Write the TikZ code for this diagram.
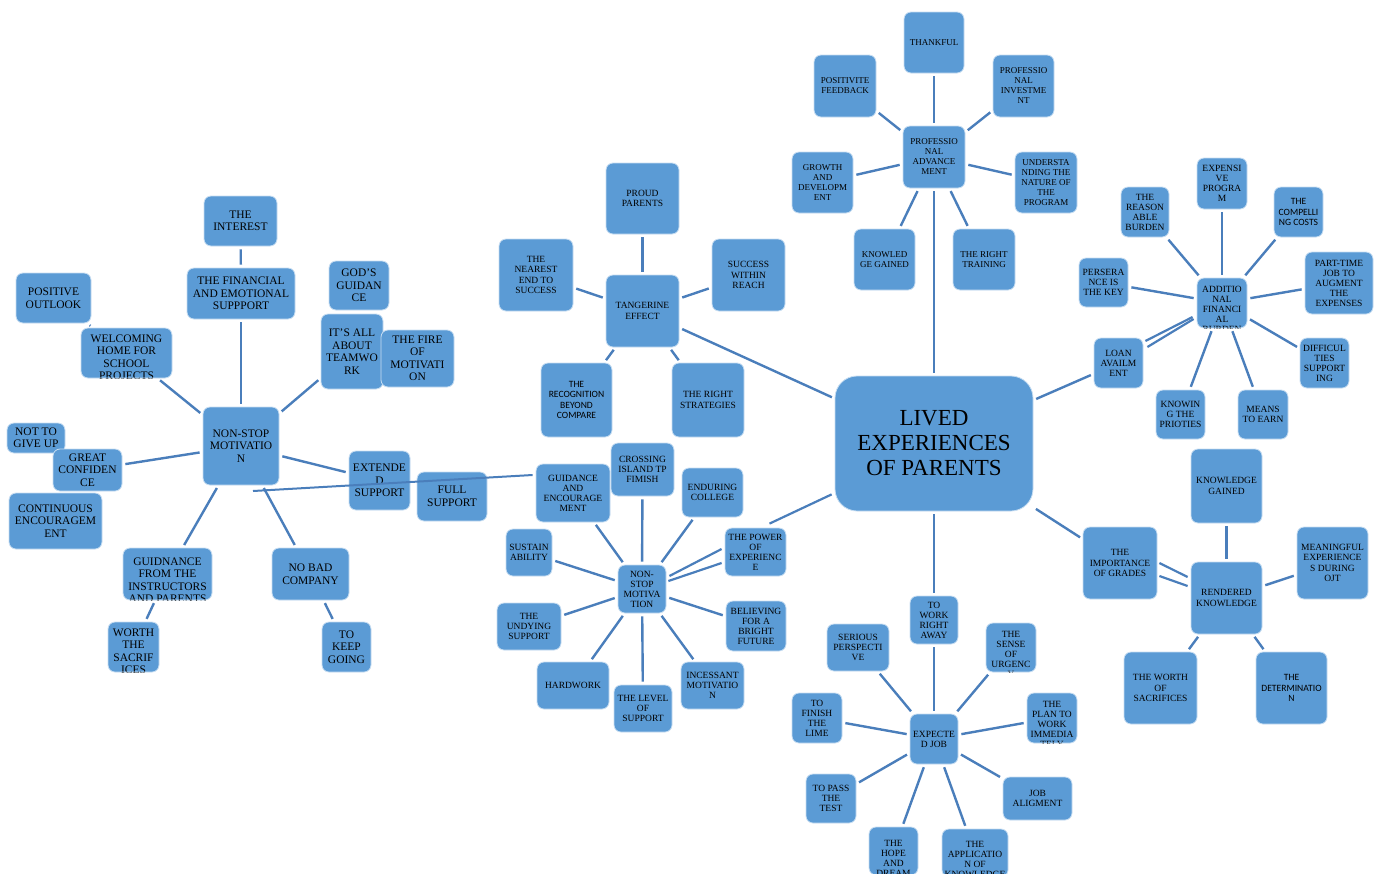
\documentclass[tikz,border=0pt]{standalone}
\usepackage{fontspec}
\setmainfont{Liberation Serif}
\newfontfamily\carl{Carlito}
\definecolor{boxblue}{RGB}{91,155,213}
\definecolor{linkblue}{RGB}{74,126,187}
\definecolor{boxedge}{RGB}{200,222,242}
\tikzset{
  box/.style={draw=boxedge, line width=0.8pt, fill=boxblue, rounded corners=7pt, inner sep=1pt, align=center, text=black},
  lk/.style={draw=linkblue, line width=2.4pt, shorten >=3pt, shorten <=3pt},
  lkz/.style={draw=linkblue, line width=2.2pt},
  fL/.style={font=\fontsize{11.5}{12.5}\selectfont},
  fT/.style={font=\fontsize{9.5}{10.5}\selectfont},
  fM/.style={font=\fontsize{9.5}{10}\selectfont},
  fP/.style={font=\fontsize{9}{10}\selectfont},
  fA/.style={font=\fontsize{9.5}{10}\selectfont},
  fR/.style={font=\fontsize{9.5}{10.5}\selectfont},
  fE/.style={font=\fontsize{9.5}{10}\selectfont},
  fS/.style={font=\carl\fontsize{9.6}{10.5}\selectfont},
}
\newcommand{\B}[6]{\node[box,#1,minimum width=#4pt,minimum height=#5pt] (#2) at (#3) {#6};}
\newcommand{\C}[7]{\node[box,minimum width=#4pt,minimum height=#5pt,path picture={\node[#1,draw=none,fill=none,anchor=north,align=center,inner sep=0pt,text=black] at ([yshift=-#6pt]path picture bounding box.north) {#7};}] (#2) at (#3) {};}
\begin{document}
\begin{tikzpicture}[x=1pt,y=-1pt]
\fill[white] (0,0) rectangle (1380,873);
\useasboundingbox (0,0) rectangle (1380,873);
\begin{scope}
\clip (0,0) rectangle (1380,873);
% central
\node[box, rounded corners=22pt, font=\fontsize{23}{25}\selectfont, minimum width=198pt, minimum height=135pt] (lived) at (934,443.5) {LIVED\\EXPERIENCES\\OF PARENTS};
% professional advancement
\B{fP}{thankful}{934,42.5}{60}{61}{THANKFUL}
\B{fP}{posfb}{845,86}{62}{62}{POSITIVITE\\FEEDBACK}
\B{fP}{profinv}{1023.5,86}{61}{62}{PROFESSIO\\NAL\\INVESTME\\NT}
\B{fP}{pa}{934,157}{62}{62}{PROFESSIO\\NAL\\ADVANCE\\MENT}
\B{fP}{growth}{822.5,182.5}{61}{61}{GROWTH\\AND\\DEVELOPM\\ENT}
\B{fP}{underst}{1046,182.5}{62}{61}{UNDERSTA\\NDING THE\\NATURE OF\\THE\\PROGRAM}
\B{fP}{knowled}{884.5,259.5}{61}{61}{KNOWLED\\GE GAINED}
\B{fP}{righttr}{984,259.5}{62}{61}{THE RIGHT\\TRAINING}
% tangerine
\B{fT}{proud}{642.5,198.5}{73}{71}{PROUD\\PARENTS}
\B{fT}{nearest}{536,275}{74}{72}{THE\\NEAREST\\END TO\\SUCCESS}
\B{fT}{tang}{642.5,311}{73}{72}{TANGERINE\\EFFECT}
\B{fT}{success}{748.5,275}{73}{72}{SUCCESS\\WITHIN\\REACH}
\B{fS}{recog}{576.5,400}{71}{74}{THE\\RECOGNITION\\BEYOND\\COMPARE}
\B{fT}{strat}{708,400}{72}{74}{THE RIGHT\\STRATEGIES}
% middle non-stop motivation
\B{fM}{crossing}{642.5,469.5}{63}{53}{CROSSING\\ISLAND TP\\FIMISH}
\B{fM}{ge}{573,493}{74}{58}{GUIDANCE\\AND\\ENCOURAGE\\MENT}
\B{fM}{enduring}{712.5,492.5}{61}{49}{ENDURING\\COLLEGE}
\B{fM}{sustain}{529,552.5}{46}{47}{SUSTAIN\\ABILITY}
\B{fM}{ns2}{642,589}{48}{48}{NON-\\STOP\\MOTIVA\\TION}
\B{fM}{power}{755.5,552}{61}{48}{THE POWER\\OF\\EXPERIENC\\E}
\B{fM}{undying}{529,626.5}{64}{47}{THE\\UNDYING\\SUPPORT}
\B{fM}{believing}{756,626}{60}{50}{BELIEVING\\FOR A\\BRIGHT\\FUTURE}
\B{fM}{hardwork}{573,685.5}{72}{47}{HARDWORK}
\B{fM}{level}{643,708.5}{58}{47}{THE LEVEL\\OF\\SUPPORT}
\B{fM}{incessant}{712.5,685.5}{63}{47}{INCESSANT\\MOTIVATIO\\N}
% left cluster
\B{fL}{interest}{240.5,221}{73}{50}{THE\\INTEREST}
\B{fL}{posout}{53.5,298}{75}{50}{POSITIVE\\OUTLOOK}
\B{fL}{fin}{241,293.5}{108}{51}{THE FINANCIAL\\AND EMOTIONAL\\SUPPPORT}
\B{fL}{gods}{359,285.5}{60}{49}{GOD'S\\GUIDAN\\CE}
\C{fL}{welc}{126.5,353}{91}{50}{4}{WELCOMING\\HOME FOR\\SCHOOL\\PROJECTS}
\B{fL}{team}{352,351.5}{62}{75}{IT'S ALL\\ABOUT\\TEAMWO\\RK}
\B{fL}{fire}{417.5,358.5}{73}{57}{THE FIRE\\OF\\MOTIVATI\\ON}
\B{fL}{ns1}{241,446}{76}{78}{NON-STOP\\MOTIVATIO\\N}
\B{fL}{notgive}{36,438}{58}{30}{NOT TO\\GIVE UP}
\B{fL}{great}{87.5,470}{69}{42}{GREAT\\CONFIDEN\\CE}
\B{fL}{contin}{55.5,521}{93}{56}{CONTINUOUS\\ENCOURAGEM\\ENT}
\B{fL}{ext}{379.5,480.5}{61}{59}{EXTENDE\\D\\SUPPORT}
\B{fL}{full}{452,496.5}{70}{49}{FULL\\SUPPORT}
\C{fL}{guidn}{167.5,574}{89}{52}{6}{GUIDNANCE\\FROM THE\\INSTRUCTORS\\AND PARENTS}
\B{fL}{nobad}{310.5,574}{77}{52}{NO BAD\\COMPANY}
\C{fL}{worth}{133.5,647}{51}{50}{4}{WORTH\\THE\\SACRIF\\ICES}
\B{fL}{keep}{346.5,647}{49}{50}{TO\\KEEP\\GOING}
% additional financial burden
\B{fA}{expens}{1222,183.5}{50}{51}{EXPENSI\\VE\\PROGRA\\M}
\B{fA}{reas}{1145,212}{48}{50}{THE\\REASON\\ABLE\\BURDEN}
\B{fS}{compel}{1298.5,212}{49}{50}{THE\\COMPELLI\\NG COSTS}
\B{fA}{pers}{1103.5,282.5}{49}{49}{PERSERA\\NCE IS\\THE KEY}
\C{fA}{add}{1222,303}{50}{50}{6}{ADDITIO\\NAL\\FINANCI\\AL\\BURDEN}
\B{fA}{part}{1339,283}{68}{62}{PART-TIME\\JOB TO\\AUGMENT\\THE\\EXPENSES}
\B{fA}{loan}{1118.5,363}{49}{50}{LOAN\\AVAILM\\ENT}
\B{fA}{diff}{1324.5,363}{49}{50}{DIFFICUL\\TIES\\SUPPORT\\ING}
\B{fA}{knowing}{1180.5,414.5}{49}{49}{KNOWIN\\G THE\\PRIOTIES}
\B{fA}{means}{1263,414.5}{50}{49}{MEANS\\TO EARN}
% rendered knowledge
\B{fR}{kg}{1226.5,486}{71}{74}{KNOWLEDGE\\GAINED}
\B{fR}{imp}{1120,563}{74}{72}{THE\\IMPORTANCE\\OF GRADES}
\B{fR}{meanexp}{1332.5,563}{71}{72}{MEANINGFUL\\EXPERIENCE\\S DURING\\OJT}
\B{fR}{rk}{1226.5,598}{71}{72}{RENDERED\\KNOWLEDGE}
\B{fR}{worthsac}{1160.5,688}{73}{72}{THE WORTH\\OF\\SACRIFICES}
\B{fS}{det}{1291.5,688}{71}{72}{THE\\DETERMINATIO\\N}
% expected job
\B{fE}{twra}{934,620}{48}{48}{TO\\WORK\\RIGHT\\AWAY}
\B{fE}{serious}{858,647.5}{62}{47}{SERIOUS\\PERSPECTI\\VE}
\C{fE}{sense}{1011,647.5}{50}{49}{6}{THE\\SENSE\\OF\\URGENC\\Y}
\B{fE}{finish}{817,718}{50}{50}{TO\\FINISH\\THE\\LIME}
\B{fE}{ej}{934,739}{48}{50}{EXPECTE\\D JOB}
\C{fE}{plan}{1052,718}{50}{50}{6}{THE\\PLAN TO\\WORK\\IMMEDIA\\TELY}
\B{fE}{pass}{831,798.5}{50}{49}{TO PASS\\THE\\TEST}
\B{fE}{align}{1037.5,798.5}{69}{43}{JOB\\ALIGMENT}
\C{fE}{hope}{893.5,851}{49}{48}{7}{THE\\HOPE\\AND\\DREAM}
\C{fE}{appl}{975,853}{66}{48}{6}{THE\\APPLICATIO\\N OF\\KNOWLEDGE}
% ---- connectors ----
% professional advancement
\foreach \n in {thankful,posfb,profinv,growth,underst,knowled,righttr} \draw[lk] (pa) -- (\n);
\draw[lk] (pa) -- (lived);
% tangerine
\foreach \n in {proud,nearest,success,recog,strat} \draw[lk] (tang) -- (\n);
\draw[lk] (tang) -- (lived);
% middle motivation
\foreach \n in {crossing,ge,enduring,sustain,undying,believing,hardwork,level,incessant} \draw[lk] (ns2) -- (\n);
\draw[lkz] ([shift={(-3,-3)}]power.west) -- ([shift={(3,-13)}]ns2.east);
\draw[lkz] ([shift={(-3,11)}]power.west) -- ([shift={(2,-8)}]ns2.east);
\draw[lkz] ([shift={(14,-4)}]power.north) -- ([shift={(-3,-17)}]lived.south west);
% left cluster
\draw[lk] (interest) -- (fin);
\foreach \n in {fin,welc,team,great,ext,guidn,nobad} \draw[lk] (ns1) -- (\n);
\draw[lk] (guidn) -- (worth);
\draw[lk] (nobad) -- (keep);
\draw[lk] (posout) -- (welc);
\coordinate (gl) at (253,491);
\draw[lkz, line width=2pt] ([shift={(-3,-18)}]ge.west) -- (gl);
% additional financial burden
\foreach \n in {expens,reas,compel,pers,part,diff,knowing,means} \draw[lk] (add) -- (\n);
\draw[lkz] ([shift={(2,-22)}]loan.east) -- ([shift={(-4,14)}]add.west);
\draw[lkz] ([shift={(4,-16)}]loan.east) -- ([shift={(-3,16)}]add.west);
\draw[lk] (loan) -- (lived);
% rendered knowledge
\foreach \n in {kg,meanexp,worthsac,det} \draw[lk] (rk) -- (\n);
\draw[lkz] ([shift={(2,0)}]imp.east) -- ([shift={(-3,-21)}]rk.west);
\draw[lkz] ([shift={(2,13)}]imp.east) -- ([shift={(-3,-12)}]rk.west);
\draw[lk] (imp) -- (lived);
% expected job
\foreach \n in {twra,serious,sense,finish,plan,pass,align,hope,appl} \draw[lk] (ej) -- (\n);
\draw[lk] (twra) -- (lived);
\end{scope}
\end{tikzpicture}
\end{document}
